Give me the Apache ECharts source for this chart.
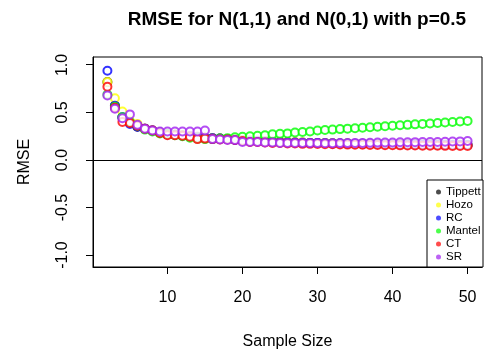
<!DOCTYPE html>
<html>
<head>
<meta charset="utf-8">
<script src="https://cdn.jsdelivr.net/npm/echarts@6/dist/echarts.min.js"></script>
<style>html,body{margin:0;padding:0;background:#fff;}#c{width:484px;height:358px;}</style>
</head>
<body>
<div id="c"></div>
<script>
var sampleSizes = [2,3,4,5,6,7,8,9,10,11,12,13,14,15,16,17,18,19,20,21,22,23,24,25,26,27,28,29,30,31,32,33,34,35,36,37,38,39,40,41,42,43,44,45,46,47,48,49,50];
var tippett = [0.82,0.57,0.45,0.40,0.35,0.33,0.31,0.29,0.27,0.265,0.26,0.25,0.245,0.235,0.23,0.225,0.22,0.215,0.21,0.205,0.20,0.20,0.195,0.19,0.19,0.185,0.185,0.18,0.18,0.178,0.176,0.175,0.173,0.172,0.17,0.17,0.168,0.167,0.166,0.165,0.164,0.163,0.162,0.162,0.161,0.16,0.16,0.159,0.158];
var hozo = [0.82,0.65,0.51,0.41,0.38,0.33,0.31,0.29,0.275,0.27,0.26,0.255,0.245,0.24,0.23,0.225,0.22,0.215,0.21,0.205,0.205,0.20,0.195,0.195,0.19,0.19,0.185,0.182,0.18,0.178,0.177,0.175,0.174,0.172,0.171,0.17,0.169,0.168,0.167,0.166,0.165,0.164,0.163,0.162,0.162,0.161,0.16,0.16,0.159];
var rc = [0.94,0.57,0.45,0.38,0.35,0.33,0.31,0.29,0.27,0.265,0.255,0.25,0.24,0.235,0.23,0.225,0.22,0.21,0.205,0.20,0.20,0.195,0.19,0.19,0.185,0.185,0.18,0.18,0.178,0.176,0.175,0.173,0.172,0.17,0.17,0.168,0.167,0.166,0.165,0.164,0.163,0.162,0.161,0.16,0.16,0.159,0.158,0.158,0.157];
var mantel = [0.69,0.56,0.45,0.40,0.36,0.32,0.30,0.28,0.27,0.26,0.25,0.235,0.225,0.22,0.22,0.225,0.23,0.24,0.245,0.25,0.255,0.26,0.27,0.275,0.28,0.29,0.295,0.30,0.31,0.315,0.32,0.325,0.33,0.335,0.34,0.345,0.35,0.355,0.36,0.365,0.37,0.375,0.38,0.385,0.39,0.395,0.40,0.405,0.41];
var ct = [0.77,0.55,0.40,0.39,0.36,0.33,0.31,0.285,0.26,0.26,0.255,0.245,0.22,0.225,0.22,0.215,0.215,0.21,0.20,0.19,0.19,0.185,0.18,0.18,0.175,0.175,0.17,0.17,0.168,0.166,0.165,0.163,0.162,0.16,0.16,0.158,0.157,0.156,0.155,0.154,0.153,0.152,0.151,0.15,0.15,0.149,0.148,0.148,0.147];
var sr = [0.68,0.54,0.44,0.48,0.37,0.33,0.31,0.30,0.30,0.30,0.30,0.30,0.30,0.31,0.22,0.215,0.21,0.21,0.19,0.19,0.19,0.185,0.185,0.18,0.18,0.18,0.18,0.178,0.178,0.177,0.177,0.178,0.178,0.18,0.18,0.182,0.183,0.184,0.185,0.186,0.187,0.188,0.189,0.19,0.19,0.192,0.194,0.196,0.20];
var seriesNames = ['Tippett','Hozo','RC','Mantel','CT','SR'];
var seriesValues = [tippett, hozo, rc, mantel, ct, sr];
var seriesColors = ['#000000','#FFFF00','#0000FF','#00FF00','#FF0000','#A020F0'];
var xTicks = [10,20,30,40,50];
var yTicks = [-1,-0.5,0,0.5,1];
var X_MIN = 0.08, X_MAX = 51.92, Y_MIN = -1.126, Y_MAX = 1.084;

var W = 484, H = 358;
var G = {left: 93, right: 2, top: 57, bottom: 91};
var FONT = '"Liberation Sans", Arial, sans-serif';
var chart = echarts.init(document.getElementById('c'), null, {renderer:'canvas', width: W, height: H});

var series = seriesNames.map(function(name, i){
  var s = {
    name: name,
    type: 'scatter',
    symbol: 'emptyCircle',
    symbolSize: 8,
    color: seriesColors[i],
    itemStyle: {color: seriesColors[i], borderColor: seriesColors[i], borderWidth: 1, opacity: 0.8},
    emphasis: {disabled: true},
    data: sampleSizes.map(function(n, j){ return [n, seriesValues[i][j]]; })
  };
  if (i === 0) {
    s.markLine = {silent: true, symbol: 'none', label: {show: false},
      lineStyle: {color: '#000', width: 1, type: 'solid'}, data: [{yAxis: 0}], animation: false};
  }
  return s;
});

// tick marks: same linear mapping as the value axes over the grid rectangle
var gw = W - G.left - G.right, gh = H - G.top - G.bottom;
var tickChildren = [];
xTicks.forEach(function(v, k){
  var px = Math.floor(G.left + (v - X_MIN) / (X_MAX - X_MIN) * gw);
  tickChildren.push({type: 'rect', id: 'xtick' + k,
    shape: {x: px, y: G.top + gh, width: 1, height: 7},
    style: {fill: '#000', stroke: null}});
});
yTicks.forEach(function(v, k){
  var py = Math.floor(G.top + (Y_MAX - v) / (Y_MAX - Y_MIN) * gh);
  tickChildren.push({type: 'rect', id: 'ytick' + k,
    shape: {x: G.left - 7, y: py, width: 7, height: 1},
    style: {fill: '#000', stroke: null}});
});
var graphics = [
  {type: 'rect', id: 'legendBox', z: 3, silent: true,
   shape: {x: 427, y: 180, width: 56, height: 87},
   style: {fill: '#fff', stroke: '#000', lineWidth: 1}},
  {type: 'group', id: 'tickGroup', z: 3, silent: true, x: 0, y: 0, children: tickChildren}
];

chart.setOption({
  animation: false,
  backgroundColor: '#fff',
  title: {
    text: 'RMSE for N(1,1) and N(0,1) with p=0.5',
    left: 292, top: 5, textAlign: 'center',
    textStyle: {fontFamily: FONT, fontSize: 19, fontWeight: 'bold', color: '#000'}
  },
  grid: {left: G.left, right: G.right, top: G.top, bottom: G.bottom, show: true, borderColor: '#000', borderWidth: 1, outerBoundsMode: 'none'},
  xAxis: {
    type: 'value', min: X_MIN, max: X_MAX,
    name: 'Sample Size', nameLocation: 'middle', nameGap: 67,
    nameTextStyle: {fontFamily: FONT, fontSize: 16, color: '#000'},
    axisLine: {show: true, onZero: false, lineStyle: {color: '#000', width: 1}},
    splitLine: {show: false},
    axisTick: {show: false},
    axisLabel: {fontFamily: FONT, fontSize: 16, color: '#000', margin: 23, customValues: xTicks}
  },
  yAxis: {
    type: 'value', min: Y_MIN, max: Y_MAX,
    name: 'RMSE', nameLocation: 'middle', nameGap: 60, nameRotate: 90,
    nameTextStyle: {fontFamily: FONT, fontSize: 16, color: '#000'},
    axisLine: {show: true, onZero: false, lineStyle: {color: '#000', width: 1}},
    splitLine: {show: false},
    axisTick: {show: false},
    axisLabel: {fontFamily: FONT, fontSize: 16, color: '#000', margin: 22, rotate: 90,
      customValues: yTicks, formatter: function(v){ return v.toFixed(1); }}
  },
  legend: {
    orient: 'vertical', left: 436, top: 186,
    icon: 'circle', itemWidth: 5, itemHeight: 5, itemGap: 1,
    padding: 0,
    textStyle: {fontFamily: FONT, fontSize: 11.5, color: '#000', lineHeight: 11.7, width: 36, overflow: 'truncate', ellipsis: ''},
    data: seriesNames.map(function(n, i){ return {name: n, itemStyle: {color: seriesColors[i], borderWidth: 0, opacity: 0.7}}; })
  },
  graphic: {elements: graphics},
  series: series
});
</script>
</body>
</html>
